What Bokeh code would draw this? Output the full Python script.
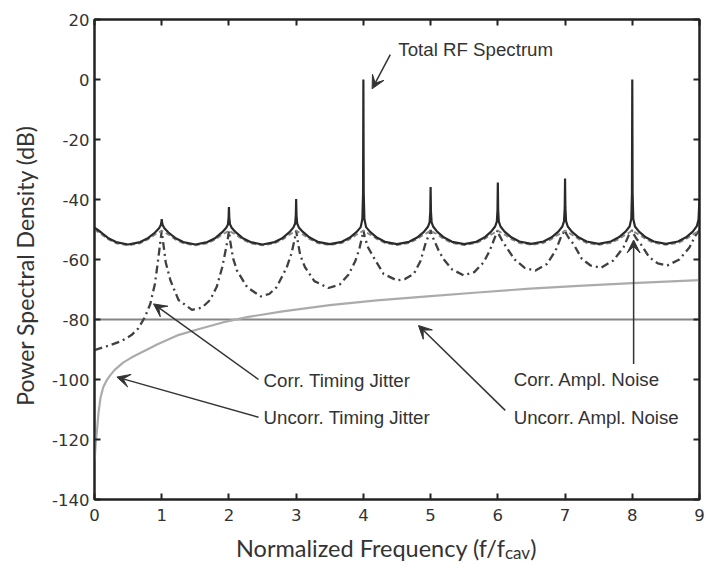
from bokeh.plotting import figure
from bokeh.models import Range1d, LinearAxis, FixedTicker, Label, Arrow, VeeHead, Div
from bokeh.layouts import column
from bokeh.embed import file_html
from bokeh.resources import INLINE

# ---------------- data ----------------
x_ticks = [0, 1, 2, 3, 4, 5, 6, 7, 8, 9]
x_tick_labels = ["0", "1", "2", "3", "4", "5", "6", "7", "8", "9"]
y_ticks = [-140, -120, -100, -80, -60, -40, -20, 0, 20]
y_tick_labels = ["-140", "-120", "-100", "-80", "-60", "-40", "-20", "0", "20"]

# Total RF spectrum: samples within each harmonic period [n, n+1)
harmonic_starts = [0, 1, 2, 3, 4, 5, 6, 7, 8]
total_offsets = [0, 0.005, 0.015, 0.04, 0.1, 0.2, 0.32, 0.5, 0.68, 0.8, 0.9, 0.96, 0.985, 0.995]
total_seg0 = [-49.5, -49.5, -49.6, -50.0, -51.0, -52.8, -54.2, -55.0, -54.2, -52.8, -51.0, -49.6, -48.6, -47.6]
total_seg1 = [-46.5, -47.6, -48.6, -49.6, -51.0, -52.8, -54.2, -55.0, -54.2, -52.8, -50.9, -49.4, -48.3, -46.0]
total_seg2 = [-42.5, -46.0, -48.2, -49.4, -50.9, -52.8, -54.2, -55.0, -54.2, -52.8, -50.9, -49.3, -48.0, -45.2]
total_seg3 = [-39.8, -45.2, -48.0, -49.3, -50.8, -52.7, -54.1, -54.9, -54.1, -52.7, -50.8, -49.2, -46.5, -38.0]
total_seg4 = [0.0, -38.0, -46.5, -49.2, -50.8, -52.7, -54.1, -54.9, -54.1, -52.7, -50.8, -49.1, -47.6, -44.0]
total_seg5 = [-35.8, -44.0, -47.6, -49.1, -50.8, -52.7, -54.1, -54.9, -54.1, -52.7, -50.7, -49.0, -47.4, -43.5]
total_seg6 = [-34.3, -43.5, -47.4, -49.0, -50.7, -52.6, -54.0, -54.8, -54.0, -52.6, -50.7, -49.0, -47.2, -42.8]
total_seg7 = [-33.0, -42.8, -47.2, -49.0, -50.7, -52.6, -54.0, -54.8, -54.0, -52.6, -50.7, -49.0, -46.5, -38.0]
total_seg8 = [0.0, -38.0, -46.5, -49.0, -50.7, -52.6, -54.0, -54.8, -54.0, -52.6, -50.7, -48.9, -46.8, -42.0]
total_end_db = -40.0

# Correlated amplitude noise (dashed), samples within each period
ampl_offsets = [0, 0.03, 0.1, 0.2, 0.32, 0.5, 0.68, 0.8, 0.9, 0.97]
ampl_seg0 = [-50.0, -50.5, -51.6, -53.2, -54.6, -55.3, -54.6, -53.2, -51.7, -50.8]
ampl_seg1 = [-50.3, -50.8, -51.7, -53.3, -54.6, -55.3, -54.6, -53.3, -51.7, -50.8]
ampl_seg2 = [-50.3, -50.8, -51.7, -53.3, -54.6, -55.3, -54.6, -53.3, -51.7, -50.8]
ampl_seg3 = [-50.3, -50.8, -51.7, -53.2, -54.5, -55.2, -54.5, -53.2, -51.7, -50.8]
ampl_seg4 = [-50.3, -50.8, -51.7, -53.2, -54.5, -55.2, -54.5, -53.2, -51.7, -50.8]
ampl_seg5 = [-50.3, -50.8, -51.7, -53.2, -54.5, -55.2, -54.5, -53.2, -51.7, -50.8]
ampl_seg6 = [-50.3, -50.8, -51.7, -53.2, -54.5, -55.1, -54.5, -53.2, -51.7, -50.8]
ampl_seg7 = [-50.3, -50.8, -51.7, -53.2, -54.5, -55.1, -54.5, -53.2, -51.7, -50.8]
ampl_seg8 = [-50.3, -50.8, -51.7, -53.2, -54.5, -55.1, -54.5, -53.2, -51.7, -50.8]
ampl_end_db = -50.3

# Correlated timing jitter (dash-dot)
ctj_f = [0, 0.2, 0.4, 0.55, 0.65, 0.75, 0.83, 0.9, 0.95, 0.98, 1.0,
         1.02, 1.06, 1.13, 1.25, 1.45, 1.6, 1.72, 1.82, 1.9, 1.95, 1.98, 2.0,
         2.02, 2.06, 2.12, 2.27, 2.47, 2.6, 2.71, 2.86, 2.93, 2.98, 3.0,
         3.02, 3.06, 3.13, 3.27, 3.48, 3.65, 3.78, 3.88, 3.94, 3.98, 4.0,
         4.02, 4.07, 4.15, 4.3, 4.5, 4.62, 4.75, 4.85, 4.92, 4.97, 5.0,
         5.02, 5.06, 5.12, 5.19, 5.32, 5.49, 5.65, 5.79, 5.88, 5.95, 6.0,
         6.02, 6.06, 6.13, 6.25, 6.4, 6.56, 6.73, 6.86, 6.94, 7.0,
         7.02, 7.06, 7.13, 7.25, 7.38, 7.53, 7.72, 7.87, 7.95, 8.0,
         8.02, 8.06, 8.13, 8.25, 8.38, 8.52, 8.7, 8.85, 8.94, 9.0]
ctj_db = [-90.2, -88.8, -87.2, -85.2, -83.0, -79.2, -74.8, -68.0, -59.5, -54.0, -50.5,
          -54.0, -61.0, -67.0, -73.5, -76.8, -76.0, -73.5, -69.0, -62.6, -57.0, -53.5, -50.5,
          -54.0, -59.5, -63.7, -69.2, -72.3, -71.5, -69.2, -62.6, -58.0, -53.0, -50.3,
          -53.5, -58.5, -62.5, -67.2, -69.5, -68.3, -65.0, -60.5, -56.5, -52.5, -50.2,
          -52.5, -56.0, -59.2, -64.8, -67.0, -66.5, -64.8, -60.5, -55.0, -52.0, -50.2,
          -52.0, -54.0, -57.0, -59.8, -63.3, -65.3, -64.2, -60.9, -57.0, -53.0, -50.2,
          -51.8, -53.5, -56.0, -60.0, -62.8, -63.7, -61.5, -57.0, -52.5, -50.2,
          -51.5, -53.0, -55.0, -59.8, -62.0, -62.8, -60.3, -55.9, -51.8, -50.2,
          -51.5, -53.0, -55.0, -59.2, -61.3, -62.0, -60.0, -56.0, -52.0, -50.2]

# Uncorrelated timing jitter (light grey)
utj_f = [0.003, 0.01, 0.02, 0.035, 0.06, 0.09, 0.13, 0.18, 0.23, 0.3, 0.43, 0.55, 0.68, 0.8,
         0.93, 1.23, 1.57, 1.92, 2.27, 2.8, 3.5, 4.2, 5.0, 5.7, 6.48, 7.2, 8.0, 9.0]
utj_db = [-127.0, -124.0, -121.0, -117.5, -111.0, -106.0, -102.6, -100.3, -98.7, -96.8, -94.3,
          -92.7, -91.2, -89.8, -88.3, -85.3, -83.1, -80.9, -79.2, -77.3, -75.2, -73.6, -72.2,
          -71.0, -69.7, -68.8, -67.9, -66.9]

# Uncorrelated amplitude noise (flat)
uan_f = [0, 9]
uan_db = [-80.0, -80.0]

# ---------------- assemble sampled curves ----------------
total_segs = [total_seg0, total_seg1, total_seg2, total_seg3, total_seg4,
              total_seg5, total_seg6, total_seg7, total_seg8]
total_f = [n + o for n in harmonic_starts for o in total_offsets] + [9]
total_db = [v for seg in total_segs for v in seg] + [total_end_db]

ampl_segs = [ampl_seg0, ampl_seg1, ampl_seg2, ampl_seg3, ampl_seg4,
             ampl_seg5, ampl_seg6, ampl_seg7, ampl_seg8]
ampl_f = [n + o for n in harmonic_starts for o in ampl_offsets] + [9]
ampl_db = [v for seg in ampl_segs for v in seg] + [ampl_end_db]

# ---------------- figure ----------------
TXT = "#333333"
AX = "#222222"
p = figure(width=705, height=532, x_range=Range1d(0, 9), y_range=Range1d(-140, 20),
           output_backend="svg", toolbar_location=None, tools="",
           min_border_left=94, min_border_right=6, min_border_top=19, min_border_bottom=33)
p.xgrid.visible = False
p.ygrid.visible = False
p.outline_line_color = AX
p.outline_line_width = 2
p.background_fill_color = "white"
p.border_fill_color = "white"

p.add_layout(LinearAxis(major_label_text_font_size="0px", major_label_text_color=None,
                        major_label_standoff=0), "right")
p.add_layout(LinearAxis(major_label_text_font_size="0px", major_label_text_color=None,
                        major_label_standoff=0), "above")

for ax in p.xaxis:
    ax.ticker = FixedTicker(ticks=x_ticks)
    ax.major_label_overrides = dict(zip(x_ticks, x_tick_labels))
for ax in p.yaxis:
    ax.ticker = FixedTicker(ticks=y_ticks)
    ax.major_label_overrides = dict(zip(y_ticks, y_tick_labels))
for ax in p.axis:
    ax.axis_line_color = AX
    ax.axis_line_width = 2
    ax.major_tick_line_color = AX
    ax.major_tick_line_width = 2
    ax.major_tick_in = 6
    ax.major_tick_out = 0
    ax.minor_tick_line_color = None

for ax in (p.below[0], p.left[0]):
    ax.major_label_text_font = "DejaVu Sans"
    ax.major_label_text_font_size = "16.5px"
    ax.major_label_text_color = TXT
p.left[0].major_label_standoff = 5
p.below[0].major_label_standoff = 9

ya = p.left[0]
ya.axis_label = "Power Spectral Density (dB)\u00a0\u00a0"
ya.axis_label_text_font = "Lato"
ya.axis_label_text_font_size = "23px"
ya.axis_label_text_font_style = "normal"
ya.axis_label_text_color = TXT
ya.axis_label_standoff = 10

# curves
p.line(uan_f, uan_db, line_color="#858585", line_width=2.2)
p.line(utj_f, utj_db, line_color="#ababab", line_width=2.2)
p.line(ctj_f, ctj_db, line_color="#404040", line_width=2.3, line_dash="8 4 2 4")
p.line(ampl_f, ampl_db, line_color="#888888", line_width=1.8, line_dash="5 3")
p.line(total_f, total_db, line_color="#2a2a2a", line_width=2.2)

# annotations
ANN_FONT = "Liberation Sans"
ANN_SIZE = "18.7px"
ann = [
    ("Total RF Spectrum", 4.52, 10.0),
    ("Corr. Timing Jitter", 2.515, -100.2),
    ("Uncorr. Timing Jitter", 2.515, -112.8),
    ("Corr. Ampl. Noise", 6.235, -100.0),
    ("Uncorr. Ampl. Noise", 6.235, -112.5),
]
for t, x, y in ann:
    p.add_layout(Label(x=x, y=y, text=t, text_font=ANN_FONT, text_font_size=ANN_SIZE,
                       text_color=TXT, text_align="left", text_baseline="alphabetic"))

arrows = [
    (4.40, 8.3, 4.13, -3.1),
    (2.44, -100.0, 0.878, -74.8),
    (2.44, -112.6, 0.333, -99.2),
    (8.02, -94.8, 8.02, -53.5),
    (6.11, -110.3, 4.82, -82.0),
]
for xs, ys, xe, ye in arrows:
    p.add_layout(Arrow(x_start=xs, y_start=ys, x_end=xe, y_end=ye,
                       line_color="#333333", line_width=1.5,
                       end=VeeHead(size=13, fill_color="#333333", line_color="#333333", line_width=1)))

# x-axis label with subscript (real HTML text below the plot)
xlabel = Div(
    text=('<div style="font-family: Lato; font-size: 23.5px; color: #333333; '
          'line-height: 28px; padding-top: 2px; padding-left: 236px; text-align: left; '
          'white-space: nowrap;">'
          'Normalized Frequency (f/f<span style="font-size: 17px; position: relative; '
          'top: 2px;">cav</span>)</div>'),
    width=705, height=35, margin=(0, 0, 0, 0))

layout = column(p, xlabel, spacing=0)
open("out.html", "w").write(file_html(layout, INLINE))
